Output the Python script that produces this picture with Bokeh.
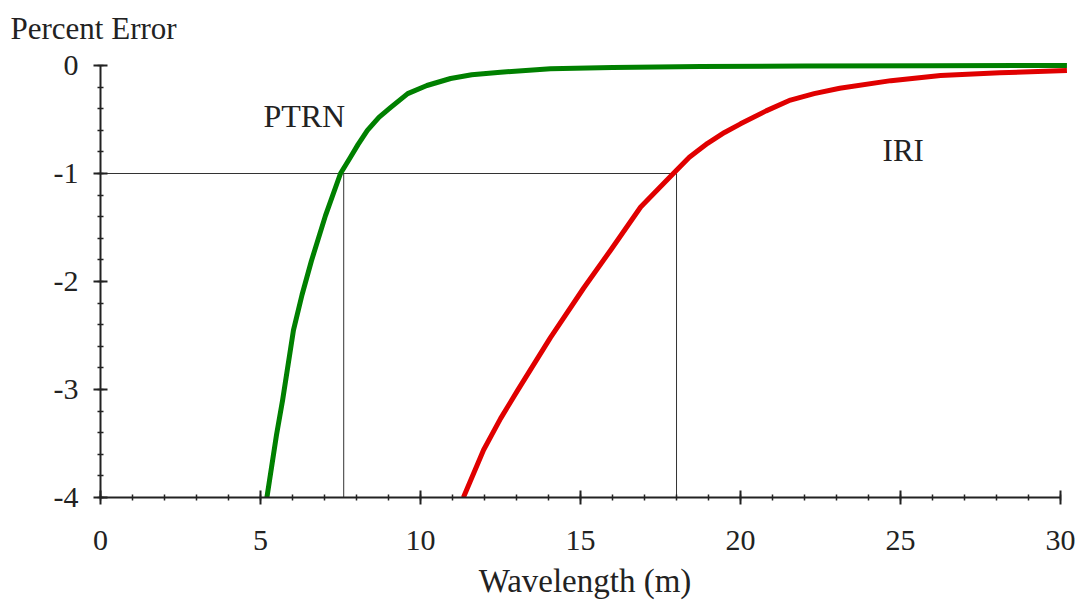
from bokeh.plotting import figure
from bokeh.models import Range1d, Label, SingleIntervalTicker, PrintfTickFormatter
from bokeh.embed import file_html
from bokeh.resources import INLINE

# PTRN curve (green)
ptrn_x = [5.2, 5.5, 5.69, 6.03, 6.3, 6.59, 7.03, 7.5, 7.81, 8.05, 8.34, 8.7, 9.06, 9.6, 10.2, 10.94, 11.6, 12.5, 14.06, 16.0, 18.75, 22.0, 26.0, 30.2]
ptrn_y = [-4.0, -3.42, -3.10, -2.45, -2.12, -1.81, -1.39, -1.0, -0.85, -0.73, -0.60, -0.48, -0.39, -0.26, -0.185, -0.12, -0.085, -0.062, -0.03, -0.018, -0.01, -0.005, -0.002, 0.0]

# IRI curve (red)
iri_x = [11.34, 11.97, 12.5, 13.03, 14.06, 15.1, 15.94, 16.88, 17.9, 18.4, 18.97, 19.5, 20.0, 20.8, 21.56, 22.3, 23.1, 24.7, 26.25, 28.1, 30.2]
iri_y = [-4.0, -3.56, -3.27, -3.01, -2.52, -2.06, -1.71, -1.31, -1.0, -0.85, -0.72, -0.62, -0.54, -0.42, -0.32, -0.26, -0.21, -0.14, -0.093, -0.068, -0.046]

# reference lines at -1 % error
ref_x0 = [0.0, 7.6, 18.0]
ref_y0 = [-1.0, -4.0, -4.0]
ref_x1 = [18.0, 7.6, 18.0]
ref_y1 = [-1.0, -1.0, -1.0]

FONT = "'Liberation Serif'"
TXT = "#222222"

p = figure(width=1081, height=602, output_backend="svg", toolbar_location=None,
           x_range=Range1d(0, 30.28), y_range=Range1d(-4.0, 0.065),
           min_border_left=100, min_border_right=12, min_border_top=58, min_border_bottom=105)
p.outline_line_color = None
p.grid.visible = False
p.background_fill_color = "white"
p.border_fill_color = "white"

p.title.text = "Percent Error"
p.title.align = "left"
p.title.vertical_align = "top"
p.title.offset = -90
p.title.text_font = FONT
p.title.text_font_size = "31px"
p.title.text_font_style = "normal"
p.title.text_color = TXT
p.title.standoff = 21

p.segment(x0=ref_x0, y0=ref_y0, x1=ref_x1, y1=ref_y1, line_color="#333333", line_width=1)
p.line(ptrn_x, ptrn_y, line_color="#008000", line_width=5, line_join="round")
p.line(iri_x, iri_y, line_color="#e00000", line_width=5, line_join="round")

xa = p.xaxis[0]
xa.ticker = SingleIntervalTicker(interval=5, num_minor_ticks=5)
xa.bounds = (0, 30)
ya = p.yaxis[0]
ya.ticker = SingleIntervalTicker(interval=1, num_minor_ticks=5)
ya.bounds = (-4, 0)

for ax in (xa, ya):
    ax.formatter = PrintfTickFormatter(format="%d")
    ax.axis_line_width = 2
    ax.axis_line_color = TXT
    ax.major_tick_line_color = TXT
    ax.minor_tick_line_color = TXT
    ax.major_tick_line_width = 2
    ax.minor_tick_line_width = 1.5
    ax.major_tick_in = 7
    ax.major_tick_out = 7
    ax.minor_tick_in = 3
    ax.minor_tick_out = 3
    ax.major_label_text_font = FONT
    ax.major_label_text_font_size = "30px"
    ax.major_label_text_color = TXT
xa.major_label_standoff = 26
ya.major_label_standoff = 15
xa.axis_label = "Wavelength (m)"
xa.axis_label_text_font = FONT
xa.axis_label_text_font_size = "33px"
xa.axis_label_text_font_style = "normal"
xa.axis_label_text_color = TXT
xa.axis_label_standoff = 10

def add_text(x, y, t, size, align="left"):
    p.add_layout(Label(x=x, y=y, text=t, text_font=FONT, text_font_size=size,
                       text_color=TXT, text_align=align, text_baseline="alphabetic"))

add_text(5.09, -0.463, "PTRN", "32px")
add_text(24.44, -0.787, "IRI", "31px")

open("out.html", "w").write(file_html(p, INLINE))
